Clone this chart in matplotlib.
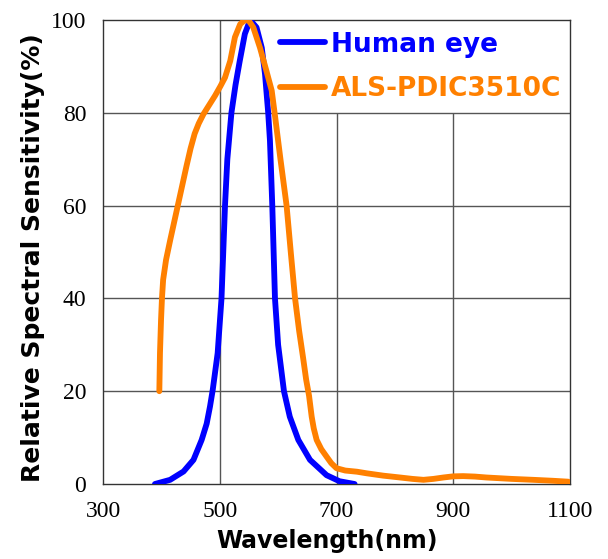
import matplotlib
matplotlib.use("Agg")
import matplotlib.pyplot as plt

# Human eye response (wavelength nm, relative %)
eye_wl = [389, 415, 438, 455, 469, 477.6, 483.3, 488, 496.4, 503, 506, 509, 513,
          520, 527, 534, 543, 552, 563, 572, 577.5, 583, 586, 590, 594.6, 600,
          610, 620, 634.6, 654.6, 683, 705, 731]
eye_val = [0, 0.9, 2.7, 5.2, 9.5, 13, 16.7, 20.3, 28.2, 40, 50, 60, 70,
           80, 86, 91, 97, 100, 98.4, 94, 88.4, 80, 74, 60, 40, 30,
           20, 14.5, 9.5, 5.2, 1.9, 0.6, 0]

# ALS-PDIC3510C response
als_wl = [396.5, 397.6, 399.4, 401, 403, 408, 415, 422, 429, 436, 443, 450, 457, 464,
          472, 482, 492, 501, 509, 518, 526, 535, 543, 550, 557.5, 569, 580, 589,
          595, 604, 614.5, 622, 629, 636, 643, 648, 653, 655, 657.5, 661, 666, 674,
          683, 691, 700, 715, 735, 752, 780, 809, 830, 849, 866, 883, 900, 917,
          937, 957, 1000, 1037, 1070, 1097]
als_val = [20, 28.2, 35.3, 40, 44, 48.3, 52.5, 56.5, 60.5, 64.5, 68.5, 72.3, 75.5, 77.7,
           79.7, 81.7, 83.7, 85.7, 87.6, 91.2, 96.3, 99.1, 100, 99.8, 98.4, 94, 89, 84.8,
           79, 70, 60, 49.5, 40, 33, 27, 22.5, 19, 17, 14.5, 12, 9.5, 7.5,
           5.9, 4.5, 3.4, 2.9, 2.65, 2.3, 1.8, 1.4, 1.1, 0.9, 1.1, 1.4, 1.65, 1.7,
           1.6, 1.4, 1.1, 0.9, 0.7, 0.5]

x_ticks = [300, 500, 700, 900, 1100]
y_ticks = [0, 20, 40, 60, 80, 100]
series_names = ["Human eye", "ALS-PDIC3510C"]

fig = plt.figure(figsize=(6.08, 5.59), dpi=100)
ax = fig.add_axes([103/608, 1-484/559, 467/608, 464/559])
ax.set_xlim(300, 1100)
ax.set_ylim(0, 100)

grid_kw = dict(color="#555555", lw=1.0, zorder=1)
for yv in y_ticks[1:-1]:
    ax.axhline(yv, **grid_kw)
ax.vlines(500, 0, 100, **grid_kw)
ax.vlines([700, 900], 0, 80, **grid_kw)

blue = "#0000FF"
orange = "#FF8000"
ax.plot(eye_wl, eye_val, color=blue, lw=4.2, solid_capstyle="round",
        solid_joinstyle="round", label=series_names[0], zorder=3)
ax.plot(als_wl, als_val, color=orange, lw=4.2, solid_capstyle="round",
        solid_joinstyle="round", label=series_names[1], zorder=4)

ax.set_xticks(x_ticks)
ax.set_yticks(y_ticks)
ax.tick_params(length=0, labelsize=17, pad=12)
for lab in ax.get_xticklabels() + ax.get_yticklabels():
    lab.set_family("Liberation Serif")

for sp in ax.spines.values():
    sp.set_color("#333333")
    sp.set_linewidth(1.0)

ax.set_xlabel("Wavelength(nm)", fontsize=17, fontweight="bold", family="DejaVu Sans")
ax.set_ylabel("Relative Spectral Sensitivity(%)", fontsize=18, fontweight="bold",
              family="DejaVu Sans")
ax.xaxis.set_label_coords(0.48, -0.123)
ax.xaxis.label.set_va("center")
ax.yaxis.set_label_coords(-0.15, 0.487)
ax.yaxis.label.set_va("center")

leg = ax.legend(loc="upper left", bbox_to_anchor=(0.379, 0.975), frameon=False,
                prop={"family": "DejaVu Sans", "weight": "bold", "size": 19},
                handlelength=1.7, handletextpad=0.23, labelspacing=0.7,
                borderpad=0, borderaxespad=0, labelcolor="linecolor")

fig.savefig("out.png", dpi=100)
